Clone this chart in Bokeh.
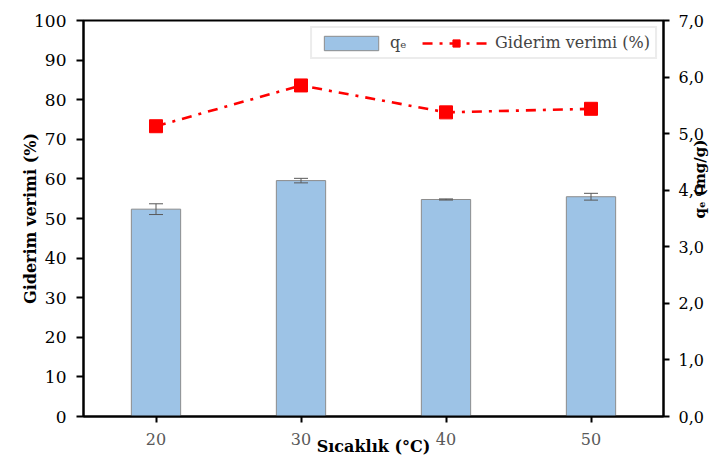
import math
from bokeh.plotting import figure
from bokeh.models import (Range1d, LinearAxis, FixedTicker, ColumnDataSource, Whisker,
                          TeeHead, Legend, LegendItem, BoxAnnotation)
from bokeh.embed import file_html
from bokeh.resources import INLINE

# ---- data ----
temps = [20, 30, 40, 50]
qe = [3.665, 4.17, 3.836, 3.885]          # mg/g (right axis)
qe_err = [0.095, 0.04, 0.01, 0.06]
removal = [73.3, 83.6, 76.8, 77.7]        # % (left axis)
left_ticks = [0, 10, 20, 30, 40, 50, 60, 70, 80, 90, 100]
right_ticks = [0.0, 1.0, 2.0, 3.0, 4.0, 5.0, 6.0, 7.0]
right_labels = ["0,0", "1,0", "2,0", "3,0", "4,0", "5,0", "6,0", "7,0"]

FONT = "DejaVu Serif"

p = figure(width=720, height=459, x_range=Range1d(15, 55), y_range=Range1d(0, 100),
           output_backend="svg", toolbar_location=None,
           min_border_left=83, min_border_right=54, min_border_top=20, min_border_bottom=43)
p.extra_y_ranges = {"qe": Range1d(0, 7)}
p.xgrid.visible = False
p.ygrid.visible = False
p.outline_line_color = "black"
p.outline_line_width = 2
p.background_fill_color = "white"
p.border_fill_color = "white"

# outer light border of the chart area
p.add_layout(BoxAnnotation(left=10, right=900, top=9, bottom=900,
                           left_units="canvas", right_units="canvas",
                           top_units="canvas", bottom_units="canvas",
                           fill_alpha=0, line_color="#d9d9d9", line_width=2))

src = ColumnDataSource(dict(x=temps, qe=qe,
                            up=[a + b for a, b in zip(qe, qe_err)],
                            lo=[a - b for a, b in zip(qe, qe_err)],
                            rem=removal))

bars = p.vbar(x="x", top="qe", width=3.4, source=src, y_range_name="qe",
              fill_color="#9dc3e6", line_color="#8c8c8c", line_width=1)

wh = Whisker(base="x", upper="up", lower="lo", source=src, y_range_name="qe",
             line_color="#595959", line_width=1, level="annotation",
             upper_head=TeeHead(size=14, line_color="#595959", line_width=1),
             lower_head=TeeHead(size=14, line_color="#595959", line_width=1))
p.add_layout(wh)

ln = p.line(x="x", y="rem", source=src, line_color="#ff0000", line_width=2.6,
            line_dash="10 7 3 7")
pts = p.scatter(x="x", y="rem", source=src, marker="square", size=13,
                fill_color="#ff0000", line_color="#ff0000")

# x axis
xa = p.xaxis[0]
xa.ticker = FixedTicker(ticks=temps)
xa.axis_line_width = 2
xa.axis_line_color = "black"
xa.major_tick_line_width = 2
xa.major_tick_out = 6
xa.major_tick_in = 0
xa.minor_tick_line_color = None
xa.major_label_standoff = 10
xa.major_label_text_font = FONT
xa.major_label_text_font_size = "16px"
xa.major_label_text_color = "#595959"
xa.axis_label = "Sıcaklık (°C)"
xa.axis_label_text_font = FONT
xa.axis_label_text_font_size = "16px"
xa.axis_label_text_font_style = "bold"
xa.axis_label_text_color = "black"
xa.axis_label_standoff = -11

# left axis
ya = p.yaxis[0]
ya.ticker = FixedTicker(ticks=left_ticks)
ya.axis_line_width = 2
ya.axis_line_color = "black"
ya.major_tick_line_width = 2
ya.major_tick_out = 7
ya.major_tick_in = 0
ya.minor_tick_line_color = None
ya.major_label_standoff = 10
ya.major_label_text_font = FONT
ya.major_label_text_font_size = "17px"
ya.major_label_text_color = "black"
ya.axis_label = "Giderim verimi (%)"
ya.axis_label_text_font = FONT
ya.axis_label_text_font_size = "16px"
ya.axis_label_text_font_style = "bold"
ya.axis_label_text_color = "black"
ya.axis_label_standoff = -9

# right axis
ra = LinearAxis(y_range_name="qe")
ra.ticker = FixedTicker(ticks=right_ticks)
ra.major_label_overrides = {t: l for t, l in zip(right_ticks, right_labels)}
ra.axis_line_width = 2
ra.axis_line_color = "black"
ra.major_tick_line_width = 2
ra.major_tick_out = 6
ra.major_tick_in = 0
ra.minor_tick_line_color = None
ra.major_label_standoff = 9
ra.major_label_text_font = FONT
ra.major_label_text_font_size = "16px"
ra.major_label_text_color = "black"
ra.axis_label = "qₑ (mg/g)"
ra.axis_label_text_font = FONT
ra.axis_label_text_font_size = "15px"
ra.axis_label_text_font_style = "bold"
ra.axis_label_text_color = "black"
ra.axis_label_standoff = -7
ra.axis_label_orientation = math.pi / 2
p.add_layout(ra, "right")

legend = Legend(items=[LegendItem(label="qₑ", renderers=[bars]),
                       LegendItem(label="Giderim verimi (%)", renderers=[ln, pts])],
                orientation="horizontal", location="top_right",
                border_line_color="#d9d9d9", border_line_width=2,
                background_fill_color="white", background_fill_alpha=1,
                glyph_width=68, glyph_height=18, label_height=18,
                label_text_font=FONT, label_text_font_size="16px",
                label_standoff=5, spacing=12, padding=5, margin=6)
p.add_layout(legend)

open("out.html", "w").write(file_html(p, INLINE))
